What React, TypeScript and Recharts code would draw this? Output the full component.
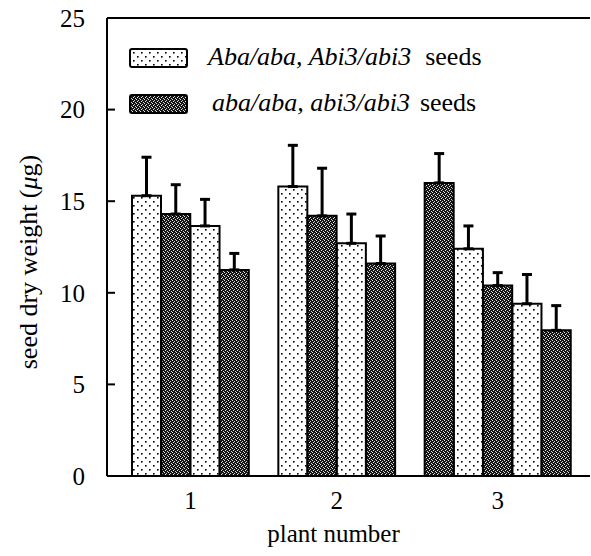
import { BarChart, Bar, XAxis, YAxis, Cell, ErrorBar, ReferenceLine, Legend, Label } from 'recharts';

// ─── data ────────────────────────────────────────────────────────────────────

const plantLabels = ['1', '2', '3'];

// seed dry weight (µg), one inner list per plant, bars left to right
const seedWeights = [
  [15.3, 14.3, 13.65, 11.25],
  [15.8, 14.2, 12.7, 11.6],
  [16.0, 12.4, 10.4, 9.4, 7.95],
];

// upper error bar length (µg)
const seedErrors = [
  [2.1, 1.6, 1.45, 0.9],
  [2.25, 2.6, 1.6, 1.5],
  [1.6, 1.25, 0.7, 1.6, 1.35],
];

// 'het' = Aba/aba, Abi3/abi3 ; 'hom' = aba/aba, abi3/abi3
const seedGenotypes = [
  ['het', 'hom', 'het', 'hom'],
  ['het', 'hom', 'het', 'hom'],
  ['hom', 'het', 'hom', 'het', 'hom'],
];

const yTicks = [0, 5, 10, 15, 20, 25];

// ─── table for recharts (one row per bar, one empty row between plants) ─────

interface Row {
  key: string;
  plant: string;
  weight: number | null;
  err: number[] | null;
  genotype: string | null;
  labelHere: boolean;
  labelShift: boolean;
}

const rows: Row[] = [];
plantLabels.forEach((plant, g) => {
  if (g > 0) {
    rows.push({ key: `gap${g}`, plant: '', weight: null, err: null, genotype: null, labelHere: false, labelShift: false });
  }
  const n = seedWeights[g].length;
  const mid = Math.floor((n - 1) / 2);
  seedWeights[g].forEach((w, i) => {
    rows.push({
      key: `${plant}-${i}`,
      plant,
      weight: w,
      err: [0, seedErrors[g][i]],
      genotype: seedGenotypes[g][i],
      labelHere: i === mid,
      labelShift: n % 2 === 0,
    });
  });
});

const FONT = '"Liberation Serif", "Times New Roman", serif';

const fillFor = (genotype: string | null) =>
  genotype === 'het' ? 'url(#dots)' : genotype === 'hom' ? 'url(#check)' : 'none';

function PlantTick(props: any) {
  const { x, y, payload } = props;
  const row = rows[payload.index];
  if (!row || !row.labelHere) return null;
  const dx = row.labelShift ? payload.offset ?? 0 : 0;
  return (
    <text x={x + dx} y={y} dy={23} textAnchor="middle" fontFamily={FONT} fontSize={25} fill="#000">
      {row.plant}
    </text>
  );
}

function YTitle({ viewBox }: any) {
  const cx = viewBox.x + 28;
  const cy = viewBox.y + viewBox.height / 2 + 15;
  return (
    <text
      x={cx}
      y={cy}
      transform={`rotate(-90, ${cx}, ${cy})`}
      textAnchor="middle"
      dominantBaseline="central"
      fontFamily={FONT}
      fontSize={26}
      fill="#000"
    >
      seed dry weight (<tspan fontStyle="italic">μ</tspan>g)
    </text>
  );
}

function XTitle({ viewBox }: any) {
  return (
    <text
      x={viewBox.x + viewBox.width / 2 - 15}
      y={viewBox.y + 66}
      textAnchor="middle"
      fontFamily={FONT}
      fontSize={25}
      fill="#000"
    >
      plant number
    </text>
  );
}

function SeedLegend() {
  return (
    <svg width={440} height={80} style={{ display: 'block', overflow: 'visible' }}>
      <rect x={2} y={2} width={57} height={18} rx={2} fill="url(#dots)" stroke="#000" strokeWidth={2} />
      <text x={80} y={18} fontFamily={FONT} fontSize={26} fill="#000">
        <tspan fontStyle="italic">Aba/aba, Abi3/abi3</tspan>
        <tspan dx={14}>seeds</tspan>
      </text>
      <rect x={2} y={48} width={57} height={18} rx={2} fill="url(#check)" stroke="#000" strokeWidth={2} />
      <text x={84} y={64} fontFamily={FONT} fontSize={26} fill="#000">
        <tspan fontStyle="italic">aba/aba, abi3/abi3</tspan>
        <tspan dx={10}>seeds</tspan>
      </text>
    </svg>
  );
}

export default function App() {
  return (
    <div style={{ position: 'absolute', left: 0, top: 0, width: 591, height: 556, background: '#fff' }}>
      <BarChart
        width={591}
        height={556}
        data={rows}
        margin={{ top: 18, right: 1, bottom: 0, left: 0 }}
        barCategoryGap={0}
        barGap={0}
      >
        <defs>
          <pattern id="dots" width={8} height={8} patternUnits="userSpaceOnUse">
            <rect width={8} height={8} fill="#fff" />
            <rect x={1} y={1} width={1.6} height={1.6} fill="#000" />
            <rect x={5} y={5} width={1.6} height={1.6} fill="#000" />
          </pattern>
          <pattern id="check" width={4} height={4} patternUnits="userSpaceOnUse">
            <rect width={4} height={4} fill="#151515" />
            <rect x={0} y={0} width={1} height={1} fill="#e6e6e6" />
            <rect x={2} y={1} width={1} height={1} fill="#d0d0d0" />
            <rect x={1} y={2} width={1} height={1} fill="#e6e6e6" />
            <rect x={3} y={3} width={1} height={1} fill="#d0d0d0" />
          </pattern>
        </defs>
        <XAxis
          dataKey="key"
          type="category"
          height={80}
          interval={0}
          padding={{ left: 25, right: 19 }}
          axisLine={{ stroke: '#000', strokeWidth: 2 }}
          tickLine={false}
          tickSize={6}
          tickMargin={4}
          tick={<PlantTick />}
        >
          <Label content={<XTitle />} />
        </XAxis>
        <YAxis
          type="number"
          domain={[0, 25]}
          ticks={yTicks}
          interval={0}
          width={107}
          axisLine={{ stroke: '#000', strokeWidth: 2 }}
          tickLine={{ stroke: '#000', strokeWidth: 2 }}
          tickSize={-8}
          tickMargin={30}
          tick={{ fontFamily: FONT, fontSize: 25, fill: '#000' }}
        >
          <Label content={<YTitle />} />
        </YAxis>
        <ReferenceLine y={25} stroke="#000" strokeWidth={2} />
        <Legend
          layout="horizontal"
          verticalAlign="middle"
          align="center"
          wrapperStyle={{ left: 128, top: 47, width: 440, height: 80 }}
          content={<SeedLegend />}
        />
        <Bar dataKey="weight" stroke="#000" strokeWidth={2} isAnimationActive={false}>
          {rows.map((r) => (
            <Cell key={r.key} fill={fillFor(r.genotype)} />
          ))}
          <ErrorBar dataKey="err" direction="y" width={5} stroke="#000" strokeWidth={3} />
        </Bar>
      </BarChart>
    </div>
  );
}
